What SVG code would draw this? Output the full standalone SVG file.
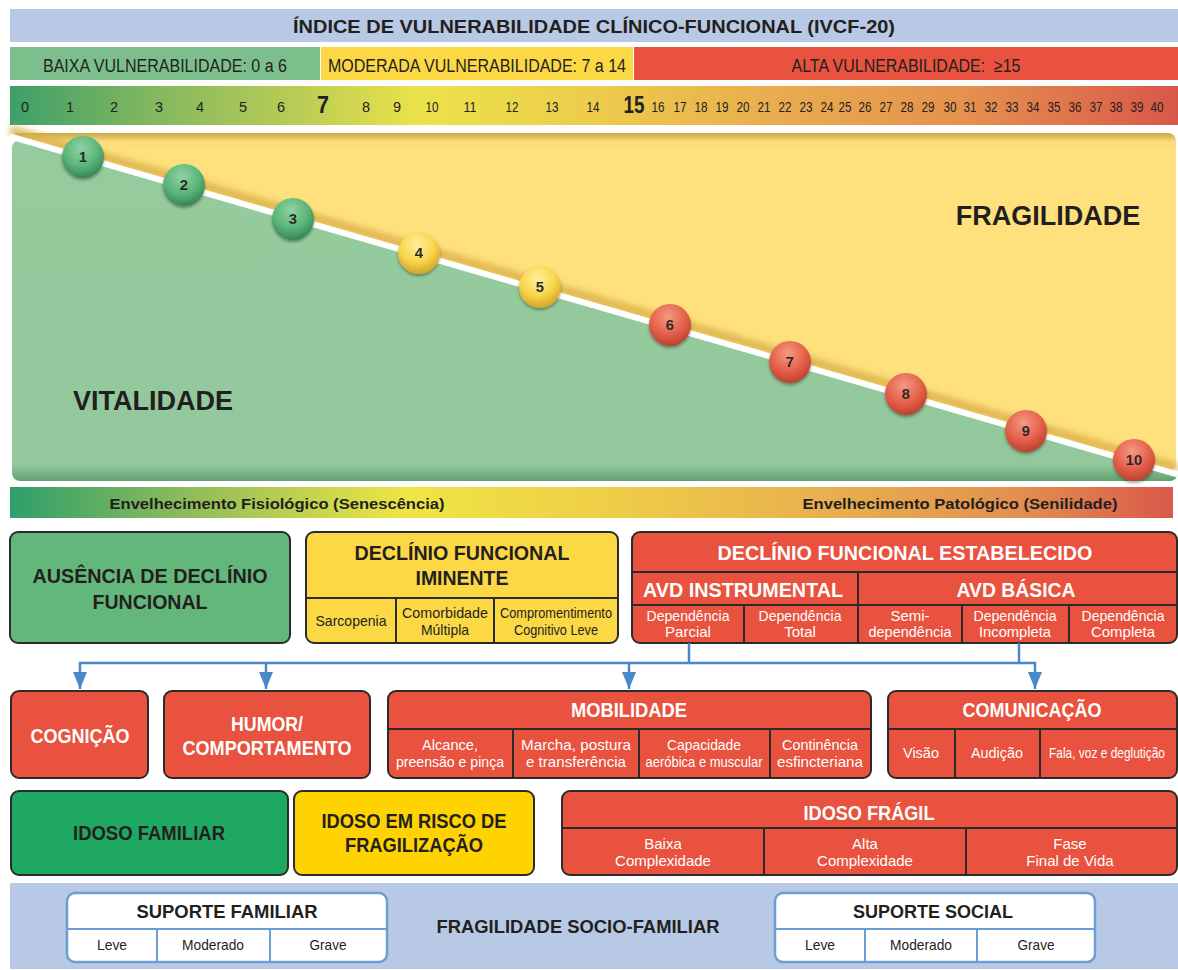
<svg xmlns="http://www.w3.org/2000/svg" width="1178" height="970" viewBox="0 0 1178 970">
<defs>
<style>
text{font-family:"Liberation Sans",Arial,sans-serif;fill:#231f20}
.b{font-weight:bold}
.w{fill:#fff}
.m{text-anchor:middle}
.box{stroke:#2b2b2b;stroke-width:2}
.dv{stroke:#2b2b2b;stroke-width:2;fill:none}
.red{fill:#e8523e}
.sup{fill:#fff;stroke:#6c9ed3;stroke-width:2.5}
.sdv{stroke:#6c9ed3;stroke-width:2;fill:none}
.conn{fill:none;stroke:#4a88c7;stroke-width:2.5}
.n{font-size:14.5px;text-anchor:middle}
.nb{font-size:24px;font-weight:bold;text-anchor:middle}
.c{font-size:15px;text-anchor:middle;fill:#fff}
.ck{font-size:15px;text-anchor:middle}
.cn{font-weight:bold;font-size:15px;text-anchor:middle;fill:#2a2a2a}
.h{font-weight:bold;font-size:20px;text-anchor:middle}
</style>
<linearGradient id="numg" gradientUnits="userSpaceOnUse" x1="10" y1="0" x2="1178" y2="0">
<stop offset="0" stop-color="#3e9f69"/>
<stop offset="0.12" stop-color="#82b75f"/>
<stop offset="0.25" stop-color="#bccd55"/>
<stop offset="0.35" stop-color="#ebe24a"/>
<stop offset="0.5" stop-color="#edcc4b"/>
<stop offset="0.65" stop-color="#e9ad4f"/>
<stop offset="0.82" stop-color="#e5904f"/>
<stop offset="1" stop-color="#d9574a"/>
</linearGradient>
<linearGradient id="envg" gradientUnits="userSpaceOnUse" x1="10" y1="0" x2="1173" y2="0">
<stop offset="0" stop-color="#2f9f6b"/>
<stop offset="0.15" stop-color="#8dbb5b"/>
<stop offset="0.34" stop-color="#efe544"/>
<stop offset="0.5" stop-color="#efd047"/>
<stop offset="0.7" stop-color="#e8b04e"/>
<stop offset="0.86" stop-color="#e3924f"/>
<stop offset="1" stop-color="#d9594b"/>
</linearGradient>
<linearGradient id="yelg" gradientUnits="userSpaceOnUse" x1="0" y1="133" x2="0" y2="472">
<stop offset="0" stop-color="#c9a54a"/>
<stop offset="0.025" stop-color="#fbdc78"/>
<stop offset="0.05" stop-color="#fee17c"/>
<stop offset="1" stop-color="#fee17c"/>
</linearGradient>
<linearGradient id="greg" gradientUnits="userSpaceOnUse" x1="0" y1="140" x2="0" y2="482">
<stop offset="0" stop-color="#96cb9e"/>
<stop offset="0.95" stop-color="#92c89b"/>
<stop offset="1" stop-color="#5f9e6e"/>
</linearGradient>
<radialGradient id="cgG" cx="0.45" cy="0.3" r="0.75">
<stop offset="0" stop-color="#8fd3a3"/>
<stop offset="0.55" stop-color="#5cb57a"/>
<stop offset="1" stop-color="#2f7f4d"/>
</radialGradient>
<radialGradient id="cgY" cx="0.45" cy="0.3" r="0.75">
<stop offset="0" stop-color="#fff0a0"/>
<stop offset="0.55" stop-color="#f8d54b"/>
<stop offset="1" stop-color="#c99d1f"/>
</radialGradient>
<radialGradient id="cgR" cx="0.45" cy="0.3" r="0.75">
<stop offset="0" stop-color="#f49a84"/>
<stop offset="0.55" stop-color="#e5614b"/>
<stop offset="1" stop-color="#b53c2b"/>
</radialGradient>
<filter id="sh" x="-30%" y="-30%" width="160%" height="170%">
<feDropShadow dx="0" dy="2" stdDeviation="1.5" flood-color="#000" flood-opacity="0.35"/>
</filter>
<filter id="bl" x="-5%" y="-20%" width="110%" height="140%">
<feGaussianBlur stdDeviation="3"/>
</filter>
<clipPath id="above"><polygon points="0,0 1178,0 1178,474.6 0,133.5"/></clipPath>
<clipPath id="below"><polygon points="0,133.5 1178,474.6 1178,970 0,970"/></clipPath>
<marker id="arr" viewBox="0 0 17 14" refX="17" refY="7" markerWidth="17" markerHeight="14" markerUnits="userSpaceOnUse" orient="auto">
<path d="M0,0 L17,7 L0,14 z" fill="#4a88c7"/>
</marker>
</defs>

<rect width="1178" height="970" fill="#fff"/>

<g id="title">
<rect x="10" y="9" width="1168" height="33" fill="#b8c9e5"/>
<text x="594" y="33" class="b m" font-size="19" textLength="602" lengthAdjust="spacingAndGlyphs">ÍNDICE DE VULNERABILIDADE CLÍNICO-FUNCIONAL (IVCF-20)</text>
</g>

<g id="band-baixa">
<rect x="10" y="47" width="310" height="33" fill="#7dbf8c"/>
<text x="165" y="72" class="m" font-size="18" textLength="244" lengthAdjust="spacingAndGlyphs">BAIXA VULNERABILIDADE: 0 a 6</text>
</g>
<g id="band-moderada">
<rect x="321" y="47" width="312" height="33" fill="#fdd845"/>
<text x="477" y="72" class="m" font-size="18" textLength="298" lengthAdjust="spacingAndGlyphs">MODERADA VULNERABILIDADE: 7 a 14</text>
</g>
<g id="band-alta">
<rect x="634" y="47" width="544" height="33" fill="#e8523e"/>
<text x="906" y="72" class="m" font-size="18" textLength="229" lengthAdjust="spacingAndGlyphs" style="white-space:pre">ALTA VULNERABILIDADE:  ≥15</text>
</g>

<g id="scale">
<rect x="10" y="86" width="1168" height="39" fill="url(#numg)"/>
<text class="n" x="25" y="112">0</text>
<text class="n" x="70" y="112">1</text>
<text class="n" x="114" y="112">2</text>
<text class="n" x="159" y="112">3</text>
<text class="n" x="200" y="112">4</text>
<text class="n" x="243" y="112">5</text>
<text class="n" x="281" y="112">6</text>
<text class="nb" x="323" y="113" textLength="12" lengthAdjust="spacingAndGlyphs">7</text>
<text class="n" x="366" y="112">8</text>
<text class="n" x="397" y="112">9</text>
<text class="n" x="432" y="112" textLength="13" lengthAdjust="spacingAndGlyphs">10</text>
<text class="n" x="470" y="112" textLength="13" lengthAdjust="spacingAndGlyphs">11</text>
<text class="n" x="512" y="112" textLength="13" lengthAdjust="spacingAndGlyphs">12</text>
<text class="n" x="552" y="112" textLength="13" lengthAdjust="spacingAndGlyphs">13</text>
<text class="n" x="593" y="112" textLength="13" lengthAdjust="spacingAndGlyphs">14</text>
<text class="nb" x="634" y="113" textLength="21" lengthAdjust="spacingAndGlyphs">15</text>
<text class="n" x="658" y="112" textLength="13" lengthAdjust="spacingAndGlyphs">16</text>
<text class="n" x="680" y="112" textLength="13" lengthAdjust="spacingAndGlyphs">17</text>
<text class="n" x="701" y="112" textLength="13" lengthAdjust="spacingAndGlyphs">18</text>
<text class="n" x="722" y="112" textLength="13" lengthAdjust="spacingAndGlyphs">19</text>
<text class="n" x="743" y="112" textLength="13" lengthAdjust="spacingAndGlyphs">20</text>
<text class="n" x="764" y="112" textLength="13" lengthAdjust="spacingAndGlyphs">21</text>
<text class="n" x="785" y="112" textLength="13" lengthAdjust="spacingAndGlyphs">22</text>
<text class="n" x="806" y="112" textLength="13" lengthAdjust="spacingAndGlyphs">23</text>
<text class="n" x="827" y="112" textLength="13" lengthAdjust="spacingAndGlyphs">24</text>
<text class="n" x="845" y="112" textLength="13" lengthAdjust="spacingAndGlyphs">25</text>
<text class="n" x="865" y="112" textLength="13" lengthAdjust="spacingAndGlyphs">26</text>
<text class="n" x="886" y="112" textLength="13" lengthAdjust="spacingAndGlyphs">27</text>
<text class="n" x="907" y="112" textLength="13" lengthAdjust="spacingAndGlyphs">28</text>
<text class="n" x="928" y="112" textLength="13" lengthAdjust="spacingAndGlyphs">29</text>
<text class="n" x="950" y="112" textLength="13" lengthAdjust="spacingAndGlyphs">30</text>
<text class="n" x="970" y="112" textLength="13" lengthAdjust="spacingAndGlyphs">31</text>
<text class="n" x="991" y="112" textLength="13" lengthAdjust="spacingAndGlyphs">32</text>
<text class="n" x="1012" y="112" textLength="13" lengthAdjust="spacingAndGlyphs">33</text>
<text class="n" x="1033" y="112" textLength="13" lengthAdjust="spacingAndGlyphs">34</text>
<text class="n" x="1054" y="112" textLength="13" lengthAdjust="spacingAndGlyphs">35</text>
<text class="n" x="1075" y="112" textLength="13" lengthAdjust="spacingAndGlyphs">36</text>
<text class="n" x="1096" y="112" textLength="13" lengthAdjust="spacingAndGlyphs">37</text>
<text class="n" x="1116" y="112" textLength="13" lengthAdjust="spacingAndGlyphs">38</text>
<text class="n" x="1137" y="112" textLength="13" lengthAdjust="spacingAndGlyphs">39</text>
<text class="n" x="1157" y="112" textLength="13" lengthAdjust="spacingAndGlyphs">40</text>
</g>

<g id="diagram">
<rect x="10" y="133" width="1166" height="338" rx="8" fill="url(#yelg)" clip-path="url(#above)"/>
<g clip-path="url(#above)">
<line x1="10" y1="130" x2="1178" y2="468" stroke="#d8ae48" stroke-width="9" filter="url(#bl)" opacity="0.85"/>
</g>
<rect x="12" y="140" width="1166" height="341" rx="8" fill="url(#greg)" clip-path="url(#below)"/>
<line x1="10" y1="136.4" x2="1178" y2="474.6" stroke="#fff" stroke-width="6"/>
<text x="1048" y="225" class="b m" font-size="27" fill="#2b2b2b">FRAGILIDADE</text>
<text x="153" y="410" class="b m" font-size="27" fill="#2b2b2b">VITALIDADE</text>
</g>

<g id="circle-1" filter="url(#sh)"><circle cx="83" cy="157" r="21" fill="url(#cgG)"/><text class="cn" x="83" y="162">1</text></g>
<g id="circle-2" filter="url(#sh)"><circle cx="184" cy="185" r="21" fill="url(#cgG)"/><text class="cn" x="184" y="190">2</text></g>
<g id="circle-3" filter="url(#sh)"><circle cx="293" cy="219" r="21" fill="url(#cgG)"/><text class="cn" x="293" y="224">3</text></g>
<g id="circle-4" filter="url(#sh)"><circle cx="419" cy="253" r="21" fill="url(#cgY)"/><text class="cn" x="419" y="258">4</text></g>
<g id="circle-5" filter="url(#sh)"><circle cx="540" cy="287" r="21" fill="url(#cgY)"/><text class="cn" x="540" y="292">5</text></g>
<g id="circle-6" filter="url(#sh)"><circle cx="670" cy="325" r="21" fill="url(#cgR)"/><text class="cn" x="670" y="330">6</text></g>
<g id="circle-7" filter="url(#sh)"><circle cx="790" cy="362" r="21" fill="url(#cgR)"/><text class="cn" x="790" y="367">7</text></g>
<g id="circle-8" filter="url(#sh)"><circle cx="906" cy="394" r="21" fill="url(#cgR)"/><text class="cn" x="906" y="399">8</text></g>
<g id="circle-9" filter="url(#sh)"><circle cx="1026" cy="431" r="21" fill="url(#cgR)"/><text class="cn" x="1026" y="436">9</text></g>
<g id="circle-10" filter="url(#sh)"><circle cx="1134" cy="460" r="21" fill="url(#cgR)"/><text class="cn" x="1134" y="465">10</text></g>

<g id="envelhecimento">
<rect x="10" y="487" width="1163" height="31" fill="url(#envg)"/>
<text x="277" y="509" class="b m" font-size="15" textLength="335" lengthAdjust="spacingAndGlyphs">Envelhecimento Fisiológico (Senescência)</text>
<text x="960" y="509" class="b m" font-size="15" textLength="315" lengthAdjust="spacingAndGlyphs">Envelhecimento Patológico (Senilidade)</text>
</g>

<g id="ausencia">
<rect x="10" y="532" width="280" height="111" rx="8" fill="#63b77a" class="box"/>
<text x="150" y="583" class="h" font-size="21" textLength="235" lengthAdjust="spacingAndGlyphs">AUSÊNCIA DE DECLÍNIO</text>
<text x="150" y="609" class="h" font-size="21" textLength="115" lengthAdjust="spacingAndGlyphs">FUNCIONAL</text>
</g>

<g id="declinio-iminente">
<rect x="306" y="532" width="312" height="111" rx="8" fill="#fdd845" class="box"/>
<path class="dv" d="M306,598 H618 M396,598 V643 M494,598 V643"/>
<text x="462" y="560" class="h" textLength="215" lengthAdjust="spacingAndGlyphs">DECLÍNIO FUNCIONAL</text>
<text x="462" y="585" class="h" textLength="93" lengthAdjust="spacingAndGlyphs">IMINENTE</text>
<text x="351" y="626" class="ck" textLength="71" lengthAdjust="spacingAndGlyphs">Sarcopenia</text>
<text x="445" y="618" class="ck" textLength="86" lengthAdjust="spacingAndGlyphs">Comorbidade</text>
<text x="445" y="635" class="ck" textLength="48" lengthAdjust="spacingAndGlyphs">Múltipla</text>
<text x="556" y="618" class="ck" textLength="112" lengthAdjust="spacingAndGlyphs">Compromentimento</text>
<text x="556" y="635" class="ck" textLength="84" lengthAdjust="spacingAndGlyphs">Cognitivo Leve</text>
</g>

<g id="declinio-estabelecido">
<rect x="632" y="532" width="545" height="111" rx="8" class="box red"/>
<path class="dv" d="M632,572 H1177 M632,605 H1177 M858,572 V643 M744,605 V643 M962,605 V643 M1069,605 V643"/>
<text x="905" y="560" class="h w" textLength="375" lengthAdjust="spacingAndGlyphs">DECLÍNIO FUNCIONAL ESTABELECIDO</text>
<text x="743" y="597" class="h w" textLength="200" lengthAdjust="spacingAndGlyphs">AVD INSTRUMENTAL</text>
<text x="1016" y="597" class="h w" textLength="119" lengthAdjust="spacingAndGlyphs">AVD BÁSICA</text>
<text x="688" y="621" class="c" textLength="83" lengthAdjust="spacingAndGlyphs">Dependência</text>
<text x="688" y="637" class="c">Parcial</text>
<text x="800" y="621" class="c" textLength="83" lengthAdjust="spacingAndGlyphs">Dependência</text>
<text x="800" y="637" class="c">Total</text>
<text x="910" y="621" class="c">Semi-</text>
<text x="910" y="637" class="c" textLength="83" lengthAdjust="spacingAndGlyphs">dependência</text>
<text x="1015" y="621" class="c" textLength="83" lengthAdjust="spacingAndGlyphs">Dependência</text>
<text x="1015" y="637" class="c" textLength="72" lengthAdjust="spacingAndGlyphs">Incompleta</text>
<text x="1123" y="621" class="c" textLength="83" lengthAdjust="spacingAndGlyphs">Dependência</text>
<text x="1123" y="637" class="c" textLength="64" lengthAdjust="spacingAndGlyphs">Completa</text>
</g>

<g id="connectors">
<path class="conn" d="M689,643 V663 H80 V689" marker-end="url(#arr)"/>
<path class="conn" d="M689,663 H1019"/>
<path class="conn" d="M1019,643 V663 H1035 V689" marker-end="url(#arr)"/>
<path class="conn" d="M266,663 V689" marker-end="url(#arr)"/>
<path class="conn" d="M629,663 V689" marker-end="url(#arr)"/>
</g>

<g id="cognicao">
<rect x="11" y="691" width="137" height="87" rx="8" class="box red"/>
<text x="80" y="743" class="h w" font-size="19" textLength="99" lengthAdjust="spacingAndGlyphs">COGNIÇÃO</text>
</g>

<g id="humor">
<rect x="164" y="691" width="206" height="87" rx="8" class="box red"/>
<text x="267" y="731" class="h w" font-size="19" textLength="72" lengthAdjust="spacingAndGlyphs">HUMOR/</text>
<text x="267" y="755" class="h w" font-size="19" textLength="169" lengthAdjust="spacingAndGlyphs">COMPORTAMENTO</text>
</g>

<g id="mobilidade">
<rect x="388" y="691" width="483" height="87" rx="8" class="box red"/>
<path class="dv" d="M388,729 H871 M513,729 V778 M639,729 V778 M770,729 V778"/>
<text x="629" y="717" class="h w" font-size="19" textLength="116" lengthAdjust="spacingAndGlyphs">MOBILIDADE</text>
<text x="450" y="750" class="c" textLength="56" lengthAdjust="spacingAndGlyphs">Alcance,</text>
<text x="450" y="767" class="c" textLength="108" lengthAdjust="spacingAndGlyphs">preensão e pinça</text>
<text x="576" y="750" class="c" textLength="110" lengthAdjust="spacingAndGlyphs">Marcha, postura</text>
<text x="576" y="767" class="c" textLength="100" lengthAdjust="spacingAndGlyphs">e transferência</text>
<text x="704" y="750" class="c" textLength="74" lengthAdjust="spacingAndGlyphs">Capacidade</text>
<text x="704" y="767" class="c" textLength="117" lengthAdjust="spacingAndGlyphs">aeróbica e muscular</text>
<text x="820" y="750" class="c" textLength="76" lengthAdjust="spacingAndGlyphs">Continência</text>
<text x="820" y="767" class="c" textLength="86" lengthAdjust="spacingAndGlyphs">esfincteriana</text>
</g>

<g id="comunicacao">
<rect x="888" y="691" width="289" height="87" rx="8" class="box red"/>
<path class="dv" d="M888,729 H1177 M955,729 V778 M1040,729 V778"/>
<text x="1032" y="717" class="h w" font-size="19" textLength="139" lengthAdjust="spacingAndGlyphs">COMUNICAÇÃO</text>
<text x="921" y="758" class="c" textLength="36" lengthAdjust="spacingAndGlyphs">Visão</text>
<text x="997" y="758" class="c" textLength="52" lengthAdjust="spacingAndGlyphs">Audição</text>
<text x="1107" y="758" class="c" font-size="13" textLength="116" lengthAdjust="spacingAndGlyphs">Fala, voz e deglutição</text>
</g>

<g id="idoso-familiar">
<rect x="11" y="791" width="277" height="84" rx="8" fill="#1ea862" class="box"/>
<text x="149" y="840" class="h" font-size="19" textLength="152" lengthAdjust="spacingAndGlyphs">IDOSO FAMILIAR</text>
</g>

<g id="idoso-risco">
<rect x="294" y="791" width="240" height="84" rx="8" fill="#fed300" class="box"/>
<text x="414" y="828" class="h" font-size="19" textLength="185" lengthAdjust="spacingAndGlyphs">IDOSO EM RISCO DE</text>
<text x="414" y="852" class="h" font-size="19" textLength="138" lengthAdjust="spacingAndGlyphs">FRAGILIZAÇÃO</text>
</g>

<g id="idoso-fragil">
<rect x="562" y="791" width="615" height="84" rx="8" class="box red"/>
<path class="dv" d="M562,828 H1177 M764,828 V875 M966,828 V875"/>
<text x="869" y="820" class="h w" font-size="19" textLength="131" lengthAdjust="spacingAndGlyphs">IDOSO FRÁGIL</text>
<text x="663" y="849" class="c" font-size="16.5">Baixa</text>
<text x="663" y="866" class="c" font-size="16.5">Complexidade</text>
<text x="865" y="849" class="c" font-size="16.5">Alta</text>
<text x="865" y="866" class="c" font-size="16.5">Complexidade</text>
<text x="1070" y="849" class="c" font-size="16.5">Fase</text>
<text x="1070" y="866" class="c" font-size="16.5">Final de Vida</text>
</g>

<g id="fragilidade-socio-familiar">
<rect x="10" y="883" width="1168" height="86" fill="#b7c9e4"/>
<text x="578" y="933" class="b m" font-size="18" textLength="283" lengthAdjust="spacingAndGlyphs">FRAGILIDADE SOCIO-FAMILIAR</text>
</g>

<g id="suporte-familiar">
<rect x="67" y="893" width="320" height="69" rx="8" class="sup"/>
<path class="sdv" d="M67,929 H387 M157,929 V962 M270,929 V962"/>
<text x="227" y="918" class="b m" font-size="18" textLength="181" lengthAdjust="spacingAndGlyphs">SUPORTE FAMILIAR</text>
<text x="112" y="950" class="ck" textLength="30" lengthAdjust="spacingAndGlyphs">Leve</text>
<text x="213" y="950" class="ck" textLength="62" lengthAdjust="spacingAndGlyphs">Moderado</text>
<text x="328" y="950" class="ck" textLength="37" lengthAdjust="spacingAndGlyphs">Grave</text>
</g>

<g id="suporte-social">
<rect x="775" y="893" width="320" height="69" rx="8" class="sup"/>
<path class="sdv" d="M775,929 H1095 M865,929 V962 M977,929 V962"/>
<text x="933" y="918" class="b m" font-size="18" textLength="160" lengthAdjust="spacingAndGlyphs">SUPORTE SOCIAL</text>
<text x="820" y="950" class="ck" textLength="30" lengthAdjust="spacingAndGlyphs">Leve</text>
<text x="921" y="950" class="ck" textLength="62" lengthAdjust="spacingAndGlyphs">Moderado</text>
<text x="1036" y="950" class="ck" textLength="37" lengthAdjust="spacingAndGlyphs">Grave</text>
</g>
</svg>
